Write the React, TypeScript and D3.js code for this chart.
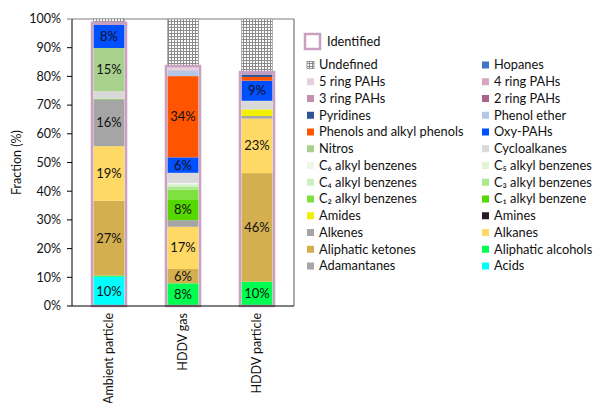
import React from "react";
import * as d3 from "d3";

const categories = ["Ambient particle", "HDDV gas", "HDDV particle"];

// bottom -> top stacking order
const seriesNames = [
  "Acids", "Adamantanes", "Aliphatic alcohols", "Aliphatic ketones", "Alkanes", "Alkenes",
  "Amines", "Amides", "C₁ alkyl benzene", "C₂ alkyl benzenes", "C₃ alkyl benzenes",
  "C₄ alkyl benzenes", "C₅ alkyl benzenes", "C₆ alkyl benzenes", "Cycloalkanes", "Nitros",
  "Oxy-PAHs", "Phenols and alkyl phenols", "Phenol ether", "Pyridines", "2 ring PAHs",
  "3 ring PAHs", "4 ring PAHs", "5 ring PAHs", "Hopanes", "Undefined",
];

const seriesColors = [
  "#00FFFF", "#A5A5A5", "#00FF50", "#D4AF50", "#FFD966", "#A5A5A5",
  "#2B1A22", "#F0F000", "#55D800", "#80E040", "#A8EA8C",
  "#CDF0C0", "#DFF5D5", "#EDF7E8", "#D9D9D9", "#A9D18E",
  "#0050FF", "#FF5500", "#B4C7E7", "#2F5597", "#A9628C",
  "#C38EB0", "#D5A6BD", "#E6D0DE", "#4472C4", "hatch",
];

// fraction (%) of each category, aligned with seriesNames (Undefined = remainder)
const ambientParticle = [10.2, 0, 0.4, 26.1, 19.0, 16.3, 0, 0, 0.2, 0, 0, 0, 0, 0, 2.6, 15.1, 8.1, 0, 0, 0, 0, 0.3, 0, 0, 0.4, 1.3];
const hddvGas = [0, 0, 7.9, 5.0, 14.7, 2.3, 0, 0, 7.3, 3.4, 0.9, 0.6, 0.5, 0.3, 3.5, 0, 5.4, 28.3, 2.0, 0, 0, 0, 0.3, 1.2, 0, 16.4];
const hddvParticle = [0, 0, 8.5, 37.8, 19.0, 0.9, 0, 2.3, 0, 0, 0, 0, 0, 0, 3.0, 0, 7.0, 1.3, 0, 0.8, 0, 0.5, 0, 0, 0.4, 18.5];

// labels (share of identified, %)
const ambientLabels: [string, number][] = [
  ["Acids", 10], ["Aliphatic ketones", 27], ["Alkanes", 19], ["Alkenes", 16], ["Nitros", 15], ["Oxy-PAHs", 8],
];
const hddvGasLabels: [string, number][] = [
  ["Aliphatic alcohols", 8], ["Aliphatic ketones", 6], ["Alkanes", 17], ["C₁ alkyl benzene", 8], ["Oxy-PAHs", 6], ["Phenols and alkyl phenols", 34],
];
const hddvParticleLabels: [string, number][] = [
  ["Aliphatic alcohols", 10], ["Aliphatic ketones", 46], ["Alkanes", 23], ["Oxy-PAHs", 9],
];

const yTicks = [0, 10, 20, 30, 40, 50, 60, 70, 80, 90, 100];
const yTitle = "Fraction (%)";
const identifiedName = "Identified";

const FONT = "Lato, 'Open Sans', sans-serif";

export default function App() {
  const W = 595, H = 403;
  const left = 72, right = 294, top = 19, bottom = 306;
  const x = d3.scaleBand().domain(categories).range([left, right]).padding(0);
  const y = d3.scaleLinear().domain([0, 100]).range([bottom, top]);
  const barW = 31;

  const valuesByCat = [ambientParticle, hddvGas, hddvParticle];
  const labelsByCat = [ambientLabels, hddvGasLabels, hddvParticleLabels];
  const rows = categories.map((c, ci) => {
    const r: any = { cat: c };
    seriesNames.forEach((s, si) => (r[s] = valuesByCat[ci][si]));
    return r;
  });
  const stacked = d3.stack().keys(seriesNames)(rows);
  const identifiedTop = categories.map((c, ci) =>
    d3.sum(valuesByCat[ci].slice(0, seriesNames.length - 1))
  );

  const legendItems = seriesNames.map((s, i) => ({ name: s, color: seriesColors[i] })).reverse();

  return (
    <svg width={W} height={H} style={{ position: "absolute", left: 0, top: 0, background: "#fff" }} fontFamily={FONT}>
      <defs>
        <pattern id="grid" width={3} height={3} patternUnits="userSpaceOnUse">
          <rect width={3} height={3} fill="#fff" />
          <path d="M0,0.5H3M0.5,0V3" stroke="#8c8c8c" strokeWidth={1} />
        </pattern>
      </defs>
      {/* plot frame */}
      <line x1={left} x2={right} y1={top} y2={top} stroke="#7f7f7f" />
      <line x1={right} x2={right} y1={top} y2={bottom} stroke="#595959" />

      {/* bars */}
      {stacked.map((layer, si) =>
        layer.map((d, ci) => {
          const h = y(d[0]) - y(d[1]);
          if (h <= 0) return null;
          const cx = x(categories[ci])! + x.bandwidth() / 2;
          const col = seriesColors[si];
          return (
            <rect
              key={`${si}-${ci}`}
              x={cx - barW / 2}
              y={y(d[1])}
              width={barW}
              height={h}
              fill={col === "hatch" ? "url(#grid)" : col}
              stroke={col === "hatch" ? "#8c8c8c" : "none"}
              strokeWidth={col === "hatch" ? 0.6 : 0}
            />
          );
        })
      )}

      {/* identified outline */}
      {categories.map((c, ci) => {
        const cx = x(c)! + x.bandwidth() / 2;
        return (
          <rect
            key={`id-${c}`}
            x={cx - 17}
            y={y(identifiedTop[ci])}
            width={34}
            height={y(0) - y(identifiedTop[ci])}
            fill="none"
            stroke="#C9A0BF"
            strokeWidth={2.5}
          />
        );
      })}

      {/* value labels */}
      {categories.map((c, ci) => {
        const cx = x(c)! + x.bandwidth() / 2;
        return labelsByCat[ci].map(([name, pct]) => {
          const si = seriesNames.indexOf(name);
          const d = stacked[si][ci];
          const my = (y(d[0]) + y(d[1])) / 2;
          return (
            <text key={`lab-${ci}-${si}`} x={cx} y={my} dy="0.35em" textAnchor="middle" fontSize={13} fill="#111">
              {`${pct}%`}
            </text>
          );
        });
      })}

      {/* axes */}
      <line x1={left} x2={left} y1={top} y2={bottom} stroke="#000" />
      <line x1={left} x2={right} y1={bottom} y2={bottom} stroke="#000" />
      {yTicks.map((t) => (
        <g key={`yt-${t}`}>
          <line x1={left - 5} x2={left} y1={y(t)} y2={y(t)} stroke={t === 100 ? "#7f7f7f" : "#000"} />
          <text x={left - 11} y={y(t)} dy="0.35em" textAnchor="end" fontSize={12.5} fill="#111">
            {`${t}%`}
          </text>
        </g>
      ))}
      <text transform={`translate(17,${(top + bottom) / 2}) rotate(-90)`} textAnchor="middle" fontSize={12.5} fill="#111" dy="0.35em">
        {yTitle}
      </text>
      {categories.map((c) => {
        const cx = x(c)! + x.bandwidth() / 2;
        return (
          <text key={`xl-${c}`} transform={`translate(${cx},${bottom + 7}) rotate(-90)`} textAnchor="end" dy="0.35em" fontSize={12.5} fill="#111">
            {c}
          </text>
        );
      })}

      {/* legend */}
      <rect x={305} y={34} width={15} height={15} fill="#fff" stroke="#C9A0BF" strokeWidth={2.5} />
      <text x={327} y={42} dy="0.35em" fontSize={12.8} fill="#111">{identifiedName}</text>
      {legendItems.map((it, i) => {
        const row = Math.floor(i / 2);
        const col = i % 2;
        const ix = col === 0 ? 307 : 482;
        const cy = 65 + row * 16.75;
        return (
          <g key={`lg-${it.name}`}>
            <rect
              x={ix}
              y={cy - 3.5}
              width={7}
              height={7}
              fill={it.color === "hatch" ? "url(#grid)" : it.color}
              stroke={it.color === "hatch" ? "#7f7f7f" : "none"}
              strokeWidth={0.8}
            />
            <text x={ix + 12} y={cy} dy="0.35em" fontSize={12.8} fill="#111">{it.name}</text>
          </g>
        );
      })}
    </svg>
  );
}
